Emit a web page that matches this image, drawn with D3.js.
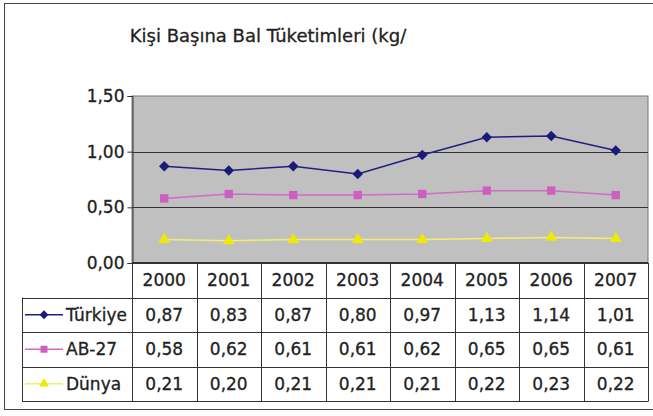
<!DOCTYPE html>
<html>
<head>
<meta charset="utf-8">
<script src="https://cdn.jsdelivr.net/npm/d3@7"></script>
<style>
  body { margin: 0; background: #fff; }
  text { font-family: "DejaVu Sans", Verdana, sans-serif; fill: #222; stroke: #222; stroke-width: 0.3px; }
</style>
</head>
<body>
<div id="chart"></div>
<script>
// chart data
const years = ["2000", "2001", "2002", "2003", "2004", "2005", "2006", "2007"];
const seriesNames = ["Türkiye", "AB-27", "Dünya"];
const turkiye = [0.87, 0.83, 0.87, 0.80, 0.97, 1.13, 1.14, 1.01];
const ab27 = [0.58, 0.62, 0.61, 0.61, 0.62, 0.65, 0.65, 0.61];
const dunya = [0.21, 0.20, 0.21, 0.21, 0.21, 0.22, 0.23, 0.22];
const yTicks = [0, 0.5, 1, 1.5];
const yTickLabels = ["0,00", "0,50", "1,00", "1,50"];

const width = 653;
const height = 416;
const plot = { left: 132, right: 648, top: 96, bottom: 263 };

const svg = d3.select("#chart")
  .append("svg")
  .attr("width", width)
  .attr("height", height);

// outer frame
svg.append("rect")
  .attr("x", 4.5).attr("y", 3.5)
  .attr("width", 670).attr("height", 406)
  .attr("fill", "#fff")
  .attr("stroke", "#444");

// title
svg.append("text")
  .attr("x", 268).attr("y", 42)
  .attr("text-anchor", "middle")
  .style("font-size", "18px")
  .text("Kişi Başına Bal Tüketimleri (kg/");

const x = d3.scaleBand()
  .domain(years)
  .range([plot.left, plot.right]);

const y = d3.scaleLinear()
  .domain([0, 1.5])
  .range([plot.bottom, plot.top]);

// plot background
svg.append("rect")
  .attr("x", plot.left).attr("y", plot.top)
  .attr("width", plot.right - plot.left)
  .attr("height", plot.bottom - plot.top)
  .attr("fill", "#c0c0c0")
  .attr("stroke", "#777");

// gridlines
svg.append("g")
  .selectAll("line")
  .data(yTicks.slice(1, 3))
  .enter()
  .append("line")
  .attr("x1", plot.left).attr("x2", plot.right)
  .attr("y1", d => Math.round(y(d)) + 0.5)
  .attr("y2", d => Math.round(y(d)) + 0.5)
  .attr("stroke", "#333");

// y axis
const yAxis = svg.append("g")
  .attr("transform", "translate(" + (plot.left + 0.5) + ",0)")
  .call(d3.axisLeft(y)
    .tickValues(yTicks)
    .tickSize(5)
    .tickPadding(3)
    .tickFormat((d, i) => yTickLabels[i]));
yAxis.select(".domain").attr("stroke", "#333");
yAxis.selectAll(".tick line").attr("stroke", "#333");
yAxis.selectAll("text")
  .style("font-size", "17px")
  .style("font-family", "DejaVu Sans, sans-serif")
  .attr("fill", "#222");

// bottom axis line
svg.append("line")
  .attr("x1", plot.left).attr("x2", plot.right)
  .attr("y1", plot.bottom).attr("y2", plot.bottom)
  .attr("stroke", "#333").attr("stroke-width", 2);

const series = [
  { name: seriesNames[0], values: turkiye, line: "#1f1f80", fill: "#1a1a78", symbol: d3.symbolDiamond2, size: 70 },
  { name: seriesNames[1], values: ab27, line: "#d36ac4", fill: "#cc5fc0", symbol: d3.symbolSquare, size: 70 },
  { name: seriesNames[2], values: dunya, line: "#f2ee70", fill: "#eeea00", symbol: d3.symbolTriangle, size: 60 }
];

const line = d3.line()
  .x((d, i) => x(years[i]) + x.bandwidth() / 2)
  .y(d => y(d));

series.forEach(s => {
  svg.append("path")
    .datum(s.values)
    .attr("d", line)
    .attr("fill", "none")
    .attr("stroke", s.line)
    .attr("stroke-width", 1.5);

  svg.append("g")
    .selectAll("path")
    .data(s.values)
    .enter()
    .append("path")
    .attr("transform", (d, i) => "translate(" + (x(years[i]) + x.bandwidth() / 2) + "," + y(d) + ")")
    .attr("d", d3.symbol().type(s.symbol).size(s.size))
    .attr("fill", s.fill);
});

// data table under the chart
const rows = d3.scaleBand()
  .domain(["header"].concat(seriesNames))
  .range([plot.bottom, 401]);

const tableLeft = 22;
const grid = svg.append("g").attr("stroke", "#333").attr("stroke-width", 1);

// horizontal rules
seriesNames.forEach(n => {
  grid.append("line")
    .attr("x1", tableLeft).attr("x2", plot.right)
    .attr("y1", Math.round(rows(n)) + 0.5).attr("y2", Math.round(rows(n)) + 0.5);
});
grid.append("line")
  .attr("x1", tableLeft).attr("x2", plot.right)
  .attr("y1", 401.5).attr("y2", 401.5);

// vertical rules
years.concat(["end"]).forEach((yr, i) => {
  const xx = i < years.length ? x(yr) : plot.right;
  grid.append("line")
    .attr("x1", Math.round(xx) + 0.5).attr("x2", Math.round(xx) + 0.5)
    .attr("y1", plot.bottom).attr("y2", 401.5);
});
grid.append("line")
  .attr("x1", tableLeft + 0.5).attr("x2", tableLeft + 0.5)
  .attr("y1", rows(seriesNames[0])).attr("y2", 401.5);

// header years
svg.append("g")
  .selectAll("text")
  .data(years)
  .enter()
  .append("text")
  .attr("x", d => x(d) + x.bandwidth() / 2)
  .attr("y", rows("header") + rows.bandwidth() / 2 + 6)
  .attr("text-anchor", "middle")
  .style("font-size", "17px")
  .text(d => d);

const fmt = v => v.toFixed(2).replace(".", ",");

series.forEach(s => {
  const cy = rows(s.name) + rows.bandwidth() / 2;

  svg.append("g")
    .selectAll("text")
    .data(s.values)
    .enter()
    .append("text")
    .attr("x", (d, i) => x(years[i]) + x.bandwidth() / 2)
    .attr("y", cy + 6)
    .attr("text-anchor", "middle")
    .style("font-size", "17px")
    .text(d => fmt(d));

  // legend key
  svg.append("line")
    .attr("x1", 25).attr("x2", 63)
    .attr("y1", cy).attr("y2", cy)
    .attr("stroke", s.line).attr("stroke-width", 1.5);
  svg.append("path")
    .attr("transform", "translate(44," + cy + ")")
    .attr("d", d3.symbol().type(s.symbol).size(s.size * 0.7))
    .attr("fill", s.fill);
  svg.append("text")
    .attr("x", 66)
    .attr("y", cy + 6)
    .style("font-size", "17px")
    .text(s.name);
});
</script>
</body>
</html>
